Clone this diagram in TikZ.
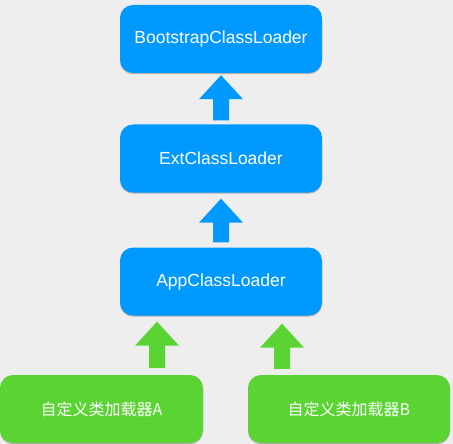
\documentclass[tikz,border=0pt]{standalone}
\usepackage{fontspec}
\setmainfont{Liberation Sans}
\newfontfamily\cjk{Noto Sans CJK SC}
\usetikzlibrary{calc,shadows}
\definecolor{bgc}{RGB}{238,238,238}
\definecolor{bluec}{RGB}{0,153,255}
\definecolor{greenc}{RGB}{89,212,51}
\tikzset{
  loader/.style={fill=#1, draw=none, rounded corners=13pt, minimum width=202pt,
    minimum height=68pt, inner sep=0pt, text=white, font=\fontsize{17.5pt}{20pt}\selectfont,
    drop shadow={shadow xshift=0pt, shadow yshift=-1.2pt, opacity=0.25, fill=black}},
  custom/.style={loader=greenc, font=\fontsize{16pt}{19pt}\selectfont\cjk},
}
\newcommand\blockup[3]{% colour, tail, tip
  \fill[#1] let \p1=(#2), \p2=(#3) in
    (\x1-8pt,\y1) -- (\x1+8pt,\y1) -- (\x1+8pt,\y2-24pt) -- (\x1+22pt,\y2-24pt)
    -- (\x2,\y2) -- (\x1-22pt,\y2-24pt) -- (\x1-8pt,\y2-24pt) -- cycle;}
\begin{document}
\begin{tikzpicture}[x=1pt,y=-1pt]
  \fill[bgc] (0,0) rectangle (453,444);
  \useasboundingbox (0,0) rectangle (453,444);
  \node[loader=bluec] (boot) at (221,39) {BootstrapClassLoader};
  \node[loader=bluec] (ext) at (221,158.5) {ExtClassLoader};
  \node[loader=bluec] (app) at (221,281.5) {AppClassLoader};
  \node[custom, minimum width=203pt] (ca) at (101.5,409) {自定义类加载器A};
  \node[custom, minimum width=202pt] (cb) at (349,409) {自定义类加载器B};
  % connectors
  \coordinate (t1) at ([yshift=4pt]ext.north);
  \coordinate (h1) at ([yshift=-2pt]boot.south);
  \blockup{bluec}{t1}{h1}
  \coordinate (t2) at ([yshift=5pt]app.north);
  \coordinate (h2) at ([yshift=-6pt]ext.south);
  \blockup{bluec}{t2}{h2}
  \coordinate (h3) at ([xshift=-64pt,yshift=-6pt]app.south);
  \coordinate (t3) at (h3 |- ca.north);
  \blockup{greenc}{[yshift=7pt]t3}{h3}
  \coordinate (h4) at ([xshift=61pt,yshift=-8pt]app.south);
  \coordinate (t4) at (h4 |- cb.north);
  \blockup{greenc}{[yshift=6pt]t4}{h4}
\end{tikzpicture}
\end{document}
